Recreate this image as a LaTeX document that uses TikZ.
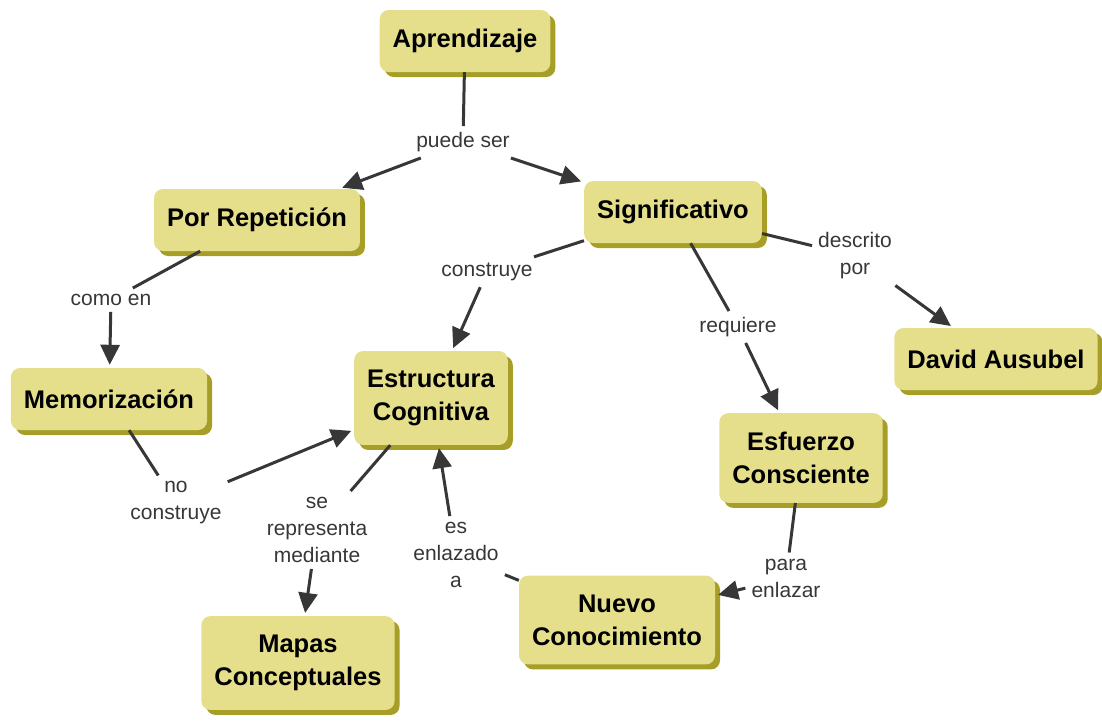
\documentclass[tikz,border=0pt]{standalone}
\usepackage{fontspec}
\setmainfont{Liberation Sans}
\usepackage{tikz}
\usetikzlibrary{arrows.meta,shadows}
\definecolor{cfill}{RGB}{229,223,140}
\definecolor{cshadow}{RGB}{166,158,38}
\definecolor{clink}{RGB}{55,55,55}

\begin{document}
\begin{tikzpicture}[x=1pt,y=-1pt,
    concept/.style={rectangle,rounded corners=9pt,fill=cfill,inner xsep=13pt,inner ysep=19pt,
        minimum height=62pt,align=center,font=\fontsize{25.5}{33}\selectfont\bfseries,
        drop shadow={shadow xshift=5pt,shadow yshift=-5pt,fill=cshadow,opacity=1}},
    phrase/.style={align=center,inner sep=6pt,text=clink,font=\fontsize{21}{27}\selectfont},
    link/.style={draw=clink,line width=3pt},
    arr/.style={link,-{Triangle[length=20pt,width=19pt]},shorten >=3pt}]
    \useasboundingbox (0,0) rectangle (1102,721);
    %
    \node[concept] (apr) at (465,41) {Aprendizaje};
    \node[concept] (rep) at (257,220) {Por Repetición};
    \node[concept] (sig) at (673,212) {Significativo};
    \node[concept] (mem) at (109,399) {Memorización};
    \node[concept] (est) at (431,398) {Estructura\\Cognitiva};
    \node[concept] (dav) at (996,359) {David Ausubel};
    \node[concept] (esf) at (801,458) {Esfuerzo\\Consciente};
    \node[concept] (map) at (298,663) {Mapas\\Conceptuales};
    \node[concept] (nue) at (617,620) {Nuevo\\Conocimiento};

    \node[phrase] (ps) at (463,142) {puede ser};
    \node[phrase] (ce) at (111,300) {como en};
    \node[phrase] (co) at (487,272) {construye};
    \node[phrase] (rq) at (738,327) {requiere};
    \node[phrase] (dp) at (855,256) {descrito\\por};
    \node[phrase] (nc) at (176,503) {no\\construye};
    \node[phrase] (sr) at (317,530) {se\\representa\\mediante};
    \node[phrase] (ea) at (456,555) {es\\enlazado\\a};
    \node[phrase] (pe) at (786,578) {para\\enlazar};
    %
    \draw[link] (apr) -- (ps);
    \draw[arr] (ps) -- (rep);
    \draw[arr] (ps) -- (sig);

    \draw[link] (rep) -- (ce);
    \draw[arr] (ce) -- (mem);

    \draw[link] (sig) -- (co);
    \draw[arr] (co) -- (est);
    \draw[link] (sig) -- (rq);
    \draw[arr] (rq) -- (esf);
    \draw[link] (sig) -- (dp);
    \draw[arr] (dp) -- (dav);

    \draw[link] (mem) -- (nc);
    \draw[arr] (nc) -- (est);
    \draw[link] (est) -- (sr);
    \draw[arr] (sr) -- (map);
    \draw[link] (nue) -- (ea);
    \draw[arr] (ea) -- (est);
    \draw[link] (esf) -- (pe);
    \draw[arr] (pe) -- (nue);
    %
\end{tikzpicture}
\end{document}
